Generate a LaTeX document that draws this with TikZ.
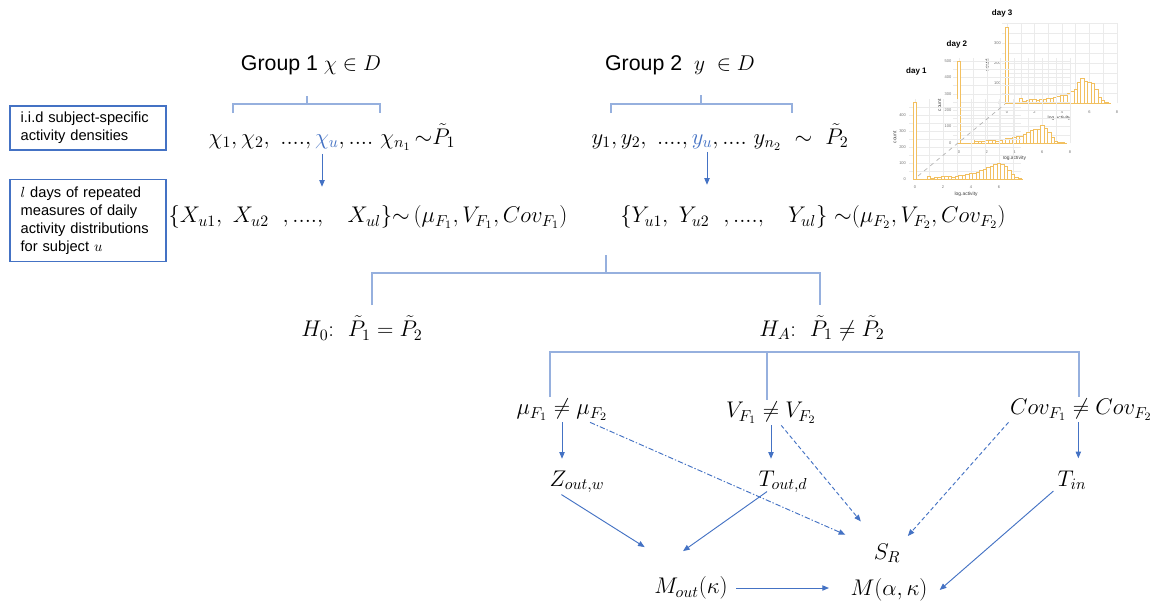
\RequirePackage{fix-cm}
\documentclass[tikz,border=0pt]{standalone}
\usepackage{fontspec}
\usepackage{amsmath}
\newfontfamily\arialfont{Liberation Sans}
\usetikzlibrary{arrows.meta,calc}
\definecolor{boxblue}{RGB}{68,114,196}
\definecolor{brblue}{RGB}{150,176,222}
\definecolor{histor}{RGB}{242,192,96}

\begin{document}
\begin{tikzpicture}[
  x=0.75pt, y=-0.75pt,
  every node/.style={inner sep=1pt},
  lbl/.style={font=\fontsize{17}{20}\selectfont},
  grp/.style={font=\arialfont\fontsize{16}{19}\selectfont},
  side/.style={draw=boxblue, line width=0.9pt, minimum width=117pt, minimum height=33pt, text width=101pt, inner xsep=8pt, align=left, font=\arialfont\fontsize{11}{13.5}\selectfont},
  brk/.style={draw=brblue, line width=1pt},
  arr/.style={-{Triangle[length=5pt,width=4pt]}, boxblue, line width=0.7pt},
  dsh/.style={arr, dash pattern=on 3pt off 2pt},
  dsd/.style={arr, dash pattern=on 4pt off 1.5pt on 1pt off 1.5pt},
  bar/.style={draw=histor, line width=0.55pt, fill=white},
  grd/.style={draw=black!8, line width=0.3pt},
  tck/.style={font=\arialfont\fontsize{3}{3.5}\selectfont, text=black!55, inner sep=0.3pt},
  axl/.style={font=\arialfont\fontsize{3.7}{4}\selectfont, text=black!75, inner sep=0.3pt},
  ttl/.style={font=\arialfont\bfseries\fontsize{6}{7}\selectfont, inner sep=0.3pt}
]
\fill[white] (0,0) rectangle (1164,608);
\useasboundingbox (0,0) rectangle (1164,608);

% left side boxes
\node[side] (box1) at (88,128) {i.i.d subject-specific\\activity densities};
\node[side, minimum height=62pt] (box2) at (88,220.5) {$l$ days of repeated\\measures of daily\\activity distributions\\for subject $u$};

% group 1
\node[grp] (grp1) at (311,65) {Group 1 $\chi\in D$};
\node[lbl] (chi) at (332,137) {$\chi_1,\chi_2,\ ....,{\color{boxblue}\chi_u},....\ \chi_{n_1}\,{\sim}\tilde{P}_1$};
\node[lbl] (xset) at (368,217) {$\{X_{u1},\ X_{u2}\ \ ,....,\ \ \ X_{ul}\}{\sim}\,(\mu_{F_1},V_{F_1},Cov_{F_1})$};

% group 2
\node[grp] (grp2) at (680,65) {Group 2 \ $y\ \in D$};
\node[lbl] (ylist) at (720,137) {$y_1,y_2,\ ....,{\color{boxblue}y_u},....\ y_{n_2}\ \sim\ \tilde{P}_2$};
\node[lbl] (yset) at (813,217) {$\{Y_{u1},\ Y_{u2}\ \ ,....,\ \ \ Y_{ul}\}\ {\sim}(\mu_{F_2},V_{F_2},Cov_{F_2})$};

% hypotheses
\node[lbl] (h0) at (362,328) {$H_0$:\ \ $\tilde{P}_1=\tilde{P}_2$};
\node[lbl] (ha) at (822,328) {$H_A$:\ \ $\tilde{P}_1\neq\tilde{P}_2$};

\node[lbl] (mu) at (562,410) {$\mu_{F_1}\neq\mu_{F_2}$};
\node[lbl] (vv) at (771,413) {$V_{F_1}\neq V_{F_2}$};
\node[lbl] (cov) at (1081,410) {$Cov_{F_1}\neq Cov_{F_2}$};

\node[lbl] (zout) at (577,482) {$Z_{out,w}$};
\node[lbl] (tout) at (783,482) {$T_{out,d}$};
\node[lbl] (tin) at (1072,480) {$T_{in}$};
\node[lbl] (sr) at (887,553) {$S_R$};
\node[lbl] (mout) at (691,588) {$M_{out}(\kappa)$};
\node[lbl] (mak) at (889,590) {$M(\alpha,\kappa)$};

% brackets
\draw[brk] (233,113) |- (380,104) -- (380,113);
\draw[brk] (307,104) -- (307,96);
\draw[brk] (611,113) |- (792,104) -- (792,113);
\draw[brk] (701,104) -- (701,95);
\draw[brk] (372,305) |- (820,273) -- (820,305);
\draw[brk] (606,273) -- (606,255);
\draw[brk] (550,397) |- (1079,352) -- (1079,397);
\draw[brk] (767,352) -- (767,400);

% arrows
\draw[arr] ([shift={(-10,2)}]chi.south) -- ++(0,33);
\draw[arr] ([shift={(-13,0)}]ylist.south) -- ++(0,33);
\draw[arr, shorten >=8pt] (mu.south) -- (mu.south |- zout.north);
\draw[arr, shorten >=8pt] (vv.south) -- (vv.south |- tout.north);
\draw[arr, shorten >=8pt] ([xshift=-2pt]cov.south) -- ([xshift=-2pt]cov.south |- tin.north);
\draw[arr] ([xshift=10pt]zout.south west) -- ([shift={(-8,-28)}]mout.north west);
\draw[arr] ([shift={(-16,-3)}]tout.south) -- ([shift={(-8,-24)}]mout.north);
\draw[arr] ([xshift=-2pt]tin.south west) -- ([xshift=8pt]mak.east);
\draw[arr, shorten <=5pt, shorten >=15pt] (mout.east) -- (mout.east -| mak.west);
\draw[dsd, shorten >=22pt] (mu) -- (sr);
\draw[dsh, shorten >=20pt] (vv) -- (sr);
\draw[dsh] (cov.south west) -- ([shift={(6,-6)}]sr.north east);

% histograms of daily log activity
\begin{scope}[shift={(1007,103)}, x=10.3pt, y=15pt]
  \foreach \g in {0,1,...,8} \draw[grd] (\g,0) -- (\g,4);
  \foreach \g in {0.5,1,...,4} \draw[grd] (-0.4,\g) -- (8,\g);
  \draw[bar] (-0.125,0) rectangle (0.125,3.8);
  \foreach \c/\h in {1/.25,1.25/.10,1.5/.12,1.75/.16,2/.18,2.25/.14,2.5/.16,2.75/.2,3/.22,3.25/.24,3.5/.28,3.75/.34,4/.38,4.25/.4,4.5/.48,4.75/.58,5/.7,5.25/1.05,5.5/1.25,5.75/1.08,6/1.02,6.25/1,6.5/.68,6.75/.3,7/.12,7.25/.05}
    \draw[bar] (\c-0.125,0) rectangle (\c+0.125,\h);
  \draw[histor, line width=0.55pt] (-0.125,0) -- (7.6,0);
  \foreach \t in {0,2,4,6,8} \node[tck] at (\t,-0.45) {\t};
  \foreach \t/\s in {1/100,2/200,3/300} \node[tck, anchor=east] at (-0.4,\t) {\s};
  \node[tck, anchor=east] at (-0.4,0) {0};
  \node[axl, rotate=90] at (-1.45,1.9) {count};
  \node[axl] at (3.8,-0.75) {log.activity};
  \node[ttl] (day3) at (-0.35,4.5) {day 3};
\end{scope}

\begin{scope}[shift={(959,143)}, x=10.4pt, y=12.3pt]
  \foreach \g in {0,1,...,8} \draw[grd] (\g,0) -- (\g,5.2);
  \foreach \g in {0.5,1,...,5} \draw[grd] (-0.4,\g) -- (8,\g);
  \draw[bar] (-0.125,0) rectangle (0.125,5.0);
  \foreach \c/\h in {1/.22,1.25/.1,1.5/.08,1.75/.12,2/.16,2.25/.16,2.5/.14,2.75/.1,3/.18,3.25/.22,3.5/.28,3.75/.3,4/.36,4.25/.4,4.5/.38,4.75/.5,5/.62,5.25/.8,5.5/.82,5.75/.82,6/1.05,6.25/.9,6.5/.62,6.75/.36,7/.12,7.25/.04,7.5/.02}
    \draw[bar] (\c-0.125,0) rectangle (\c+0.125,\h);
  \draw[histor, line width=0.55pt] (-0.125,0) -- (7.8,0);
  \foreach \t in {0,2,4,6,8} \node[tck] at (\t,-0.55) {\t};
  \foreach \t/\s in {1/100,2/200,3/300,4/400,5/500} \node[tck, anchor=east] at (-0.5,\t) {\s};
  \node[tck, anchor=east] at (-0.5,0) {0};
  \node[axl, rotate=90] at (-1.4,2.3) {count};
  \node[axl] at (4,-0.9) {log.activity};
  \node[ttl] (day2) at (-0.15,6) {day 2};
\end{scope}

\begin{scope}[shift={(915,179)}, x=10.5pt, y=12pt]
  \foreach \g in {0,1,...,7} \draw[grd] (\g,0) -- (\g,5);
  \foreach \g in {0.5,1,...,4.5} \draw[grd] (-0.4,\g) -- (7.6,\g);
  \draw[bar] (-0.125,0) rectangle (0.125,4.8);
  \foreach \c/\h in {1/.18,1.25/.06,1.5/.1,1.75/.12,2/.14,2.25/.14,2.5/.14,2.75/.12,3/.16,3.25/.2,3.5/.24,3.75/.3,4/.34,4.25/.38,4.5/.44,4.75/.52,5/.6,5.25/.7,5.5/.82,5.75/.94,6/.96,6.25/.94,6.5/.8,6.75/.52,7/.26,7.25/.1,7.5/.03}
    \draw[bar] (\c-0.125,0) rectangle (\c+0.125,\h);
  \draw[histor, line width=0.55pt] (-0.125,0) -- (7.7,0);
  \foreach \t in {0,2,4,6} \node[tck] at (\t,-0.5) {\t};
  \foreach \t/\s in {1/100,2/200,3/300,4/400} \node[tck, anchor=east] at (-0.6,\t) {\s};
  \node[tck, anchor=east] at (-0.6,0) {0};
  \node[axl, rotate=90] at (-1.45,2.6) {count};
  \node[axl] at (3.65,-0.95) {log.activity};
  \node[ttl] (day1) at (0.1,6.7) {day 1};
\end{scope}

\draw[black!30, dashed, line width=0.5pt] (918,176) -- (1005,104);
\end{tikzpicture}
\end{document}
